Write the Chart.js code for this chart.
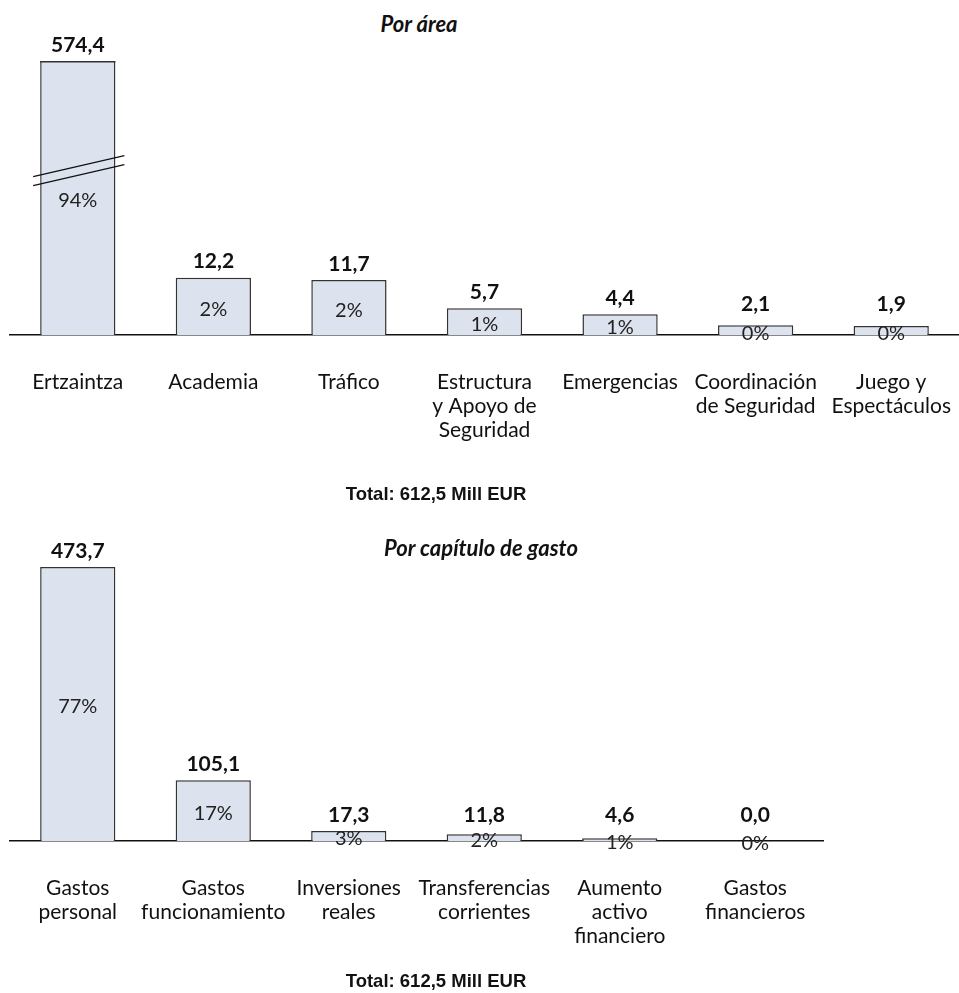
<!DOCTYPE html>
<html>
<head>
<meta charset="utf-8">
<script src="https://cdn.jsdelivr.net/npm/chart.js@4.4.0/dist/chart.umd.min.js"></script>
<style>
  body { margin: 0; background: #fff; }
  #page { position: relative; width: 959px; height: 993px; overflow: hidden; }
  .wrap { position: absolute; left: 0; width: 959px; }
  .title { position: absolute; transform: translate(-50%, -50%); white-space: nowrap;
           font-family: Lato, 'Open Sans', sans-serif; font-weight: bold; font-style: italic;
           font-size: 22px; color: #111; }
  .total { position: absolute; transform: translate(-50%, -50%); white-space: nowrap;
           font-family: 'Liberation Sans', Arial, sans-serif;
           font-weight: bold; font-size: 18.5px; color: #111; }
</style>
</head>
<body>
<div id="page">
  <div class="title" style="left:419px; top:23px;">Por área</div>
  <div class="wrap" style="top:0; height:500px;"><canvas id="areaChart"></canvas></div>
  <div class="total" style="left:436px; top:494px;">Total: 612,5 Mill EUR</div>
  <div class="title" style="left:481px; top:547px;">Por capítulo de gasto</div>
  <div class="wrap" style="top:500px; height:493px;"><canvas id="chapterChart"></canvas></div>
  <div class="total" style="left:436px; top:981px;">Total: 612,5 Mill EUR</div>
</div>
<script>
// data (Mill EUR)
const areaLabels = [['Ertzaintza'], ['Academia'], ['Tráfico'], ['Estructura', 'y Apoyo de', 'Seguridad'],
                    ['Emergencias'], ['Coordinación', 'de Seguridad'], ['Juego y', 'Espectáculos']];
const areaValues = [574.4, 12.2, 11.7, 5.7, 4.4, 2.1, 1.9];
const areaPct = ['94%', '2%', '2%', '1%', '1%', '0%', '0%'];
const areaAxisMax = 58.3;   // axis is broken above this

const chapterLabels = [['Gastos', 'personal'], ['Gastos', 'funcionamiento'], ['Inversiones', 'reales'],
                       ['Transferencias', 'corrientes'], ['Aumento', 'activo', 'financiero'], ['Gastos', 'financieros']];
const chapterValues = [473.7, 105.1, 17.3, 11.8, 4.6, 0.0];
const chapterPct = ['77%', '17%', '3%', '2%', '1%', '0%'];
const chapterAxisMax = 473.7;

const BAR_FILL = '#dde3ee';
const BAR_LINE = '#333333';
const FONT = 'Lato, "Open Sans", sans-serif';

function fmt(v) {
    return v.toFixed(1).replace('.', ',');
}

// value on top of each bar + share inside it, and the break mark for clipped bars
const barLabels = {
    id: 'barLabels',
    afterDatasetsDraw(chart, args, opts) {
        const ctx = chart.ctx;
        const area = chart.chartArea;
        const meta = chart.getDatasetMeta(0);
        const values = chart.data.datasets[0].data;
        ctx.save();
        meta.data.forEach((bar, i) => {
            const top = Math.max(bar.y, area.top);
            const base = bar.base;
            const left = bar.x - bar.width / 2;
            const right = bar.x + bar.width / 2;

            if (bar.y < area.top) {
                // bar clipped: close its top and draw the break
                ctx.strokeStyle = BAR_LINE;
                ctx.lineWidth = 1.5;
                ctx.beginPath();
                ctx.moveTo(left, area.top + 0.75);
                ctx.lineTo(right, area.top + 0.75);
                ctx.stroke();

                const mid = area.top + (area.bottom - area.top) * 0.4;
                const x0 = left - 7, x1 = right + 9;
                const dy = 10.5;
                ctx.strokeStyle = '#111';
                ctx.lineWidth = 1.2;
                [-4.5, 4.5].forEach(off => {
                    ctx.beginPath();
                    ctx.moveTo(x0, mid + dy + off);
                    ctx.lineTo(x1, mid - dy + off);
                    ctx.stroke();
                });
            }

            ctx.textAlign = 'center';
            ctx.textBaseline = 'middle';

            // value label
            ctx.fillStyle = '#111';
            ctx.font = 'bold 21px ' + FONT;
            const vy = Math.min(top - 16, base - opts.minLift);
            ctx.fillText(fmt(values[i]), bar.x, vy);

            // percent label
            ctx.fillStyle = '#222';
            ctx.font = '20px ' + FONT;
            ctx.fillText(opts.pct[i], bar.x, (top + base) / 2 + 3);
        });
        ctx.restore();
    }
};

function makeChart(id, labels, values, pct, yMax, pad, axisHeight, minLift) {
    return new Chart(document.getElementById(id), {
        type: 'bar',
        data: {
            labels,
            datasets: [{
                data: values,
                backgroundColor: BAR_FILL,
                borderColor: BAR_LINE,
                borderWidth: 1.5,
                borderSkipped: 'bottom',
                barPercentage: 0.555,
                categoryPercentage: 1,
                clip: { left: 5, right: 5, top: 0, bottom: 5 }
            }]
        },
        options: {
            responsive: true,
            maintainAspectRatio: false,
            animation: false,
            events: [],
            layout: { padding: pad },
            plugins: {
                legend: { display: false },
                tooltip: { enabled: false },
                barLabels: { pct, minLift }
            },
            scales: {
                x: {
                    grid: { display: false },
                    border: { display: true, color: '#111', width: 1.5 },
                    ticks: {
                        color: '#111',
                        padding: 27,
                        maxRotation: 0,
                        autoSkip: false,
                        font: { family: FONT, size: 21, lineHeight: 1.14 }
                    },
                    afterFit(scale) {
                        scale.height = axisHeight;
                        scale.paddingLeft = 0;
                        scale.paddingRight = 0;
                    }
                },
                y: { display: false, min: 0, max: yMax }
            }
        },
        plugins: [barLabels]
    });
}

makeChart('areaChart', areaLabels, areaValues, areaPct, areaAxisMax,
          { top: 61, left: 10, right: 0, bottom: 0 }, 165, 31);
makeChart('chapterChart', chapterLabels, chapterValues, chapterPct, chapterAxisMax,
          { top: 67, left: 10, right: 136, bottom: 0 }, 152, 26);
</script>
</body>
</html>
